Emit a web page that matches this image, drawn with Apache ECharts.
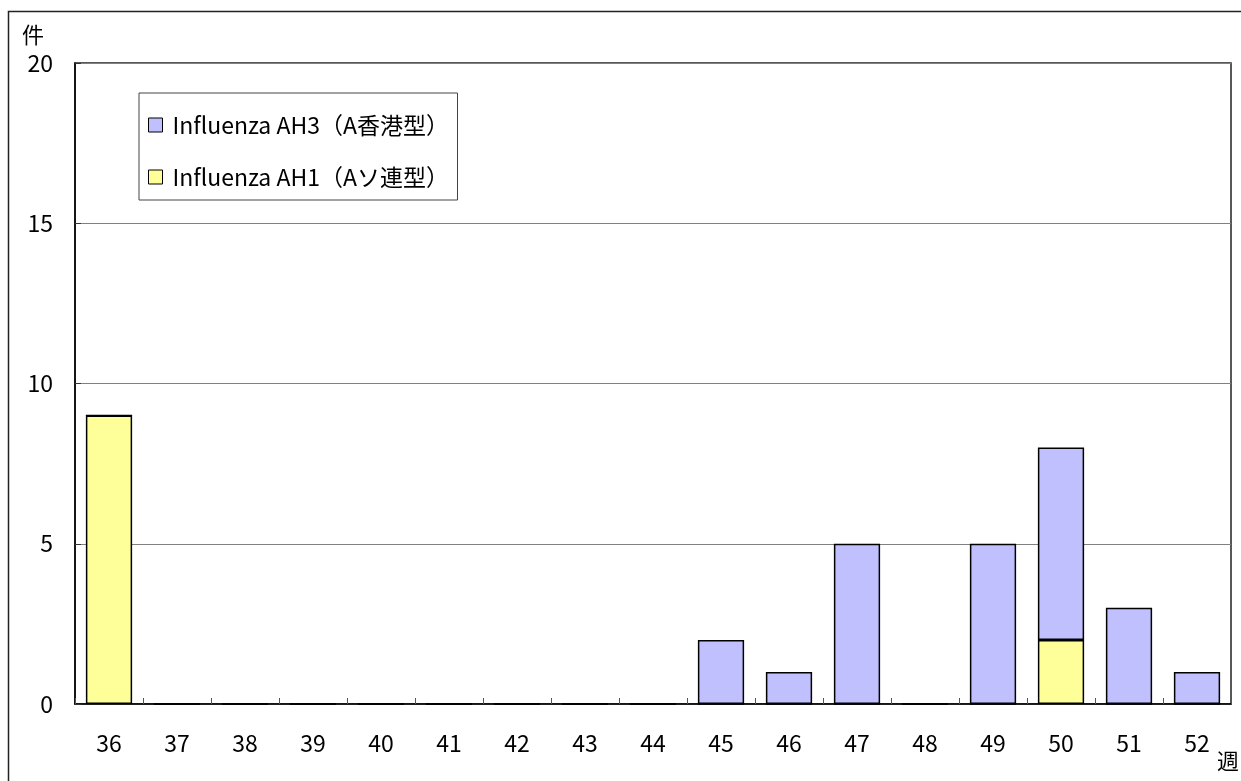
<!DOCTYPE html>
<html>
<head>
<meta charset="utf-8">
<script src="https://cdn.jsdelivr.net/npm/echarts@6/dist/echarts.min.js"></script>
<style>
html,body{margin:0;padding:0;background:#fff;}
#main{width:1241px;height:781px;}
</style>
</head>
<body>
<div id="main"></div>
<script>
const weeks = ['36','37','38','39','40','41','42','43','44','45','46','47','48','49','50','51','52'];
const ah3 = [0,0,0,0,0,0,0,0,0,2,1,5,0,5,6,3,1];
const ah1 = [9,0,0,0,0,0,0,0,0,0,0,0,0,0,2,0,0];
const nameAH3 = 'Influenza AH3（A香港型）';
const nameAH1 = 'Influenza AH1（Aソ連型）';
const yUnit = '件';
const xUnit = '週';

const FONT = '"Noto Sans CJK JP", "Noto Sans", sans-serif';
const chart = echarts.init(document.getElementById('main'), null, {renderer: 'canvas'});
chart.setOption({
  animation: false,
  backgroundColor: '#fff',
  textStyle: {fontFamily: FONT},
  grid: {left: 75, right: 10, top: 63, bottom: 77, show: true, borderColor: '#222', borderWidth: 1.5, backgroundColor: 'transparent'},
  legend: {
    orient: 'vertical',
    left: 139, top: 93,
    data: [nameAH3, nameAH1],
    itemWidth: 14, itemHeight: 14,
    itemGap: 28,
    padding: [20, 4, 11, 9],
    borderColor: '#444', borderWidth: 1,
    icon: 'rect',
    itemStyle: {borderColor: '#000', borderWidth: 1},
    textStyle: {fontFamily: FONT, fontSize: 23, color: '#000', lineHeight: 24, width: 281, padding: [0,0,0,5]}
  },
  xAxis: {
    type: 'category',
    data: weeks,
    boundaryGap: true,
    axisLine: {lineStyle: {color: '#000', width: 1.5}},
    axisTick: {show: true, interval: 0, inside: true, length: 6, lineStyle: {color: '#555', width: 1}},
    axisLabel: {color: '#000', fontSize: 23, margin: 28, fontFamily: FONT, interval: 0}
  },
  yAxis: {
    type: 'value',
    min: 0, max: 20, interval: 5,
    axisLine: {show: true, lineStyle: {color: '#000', width: 1.5}},
    axisTick: {show: true, inside: true, length: 6, lineStyle: {color: '#333'}},
    axisLabel: {color: '#000', fontSize: 23, margin: 22, fontFamily: FONT},
    splitLine: {lineStyle: {color: '#808080', width: 1}}
  },
  series: [
    {name: nameAH1, type: 'bar', stack: 'a', data: ah1, barCategoryGap: '32%',
     itemStyle: {color: '#FFFF99', borderColor: '#000', borderWidth: 1.5}},
    {name: nameAH3, type: 'bar', stack: 'a', data: ah3, barCategoryGap: '32%',
     itemStyle: {color: '#C0C0FF', borderColor: '#000', borderWidth: 1.5}}
  ],
  graphic: [
    {type: 'rect', shape: {x: 8.5, y: 11.5, width: 1300, height: 900}, style: {fill: 'none', stroke: '#222', lineWidth: 1.5}, silent: true, z: 100},
    {type: 'text', left: 22, top: 24, style: {text: yUnit, fontSize: 22, fill: '#000', fontFamily: FONT}},
    {type: 'text', left: 1217, top: 750, style: {text: xUnit, fontSize: 22, fill: '#000', fontFamily: FONT}}
  ]
});
</script>
</body>
</html>
